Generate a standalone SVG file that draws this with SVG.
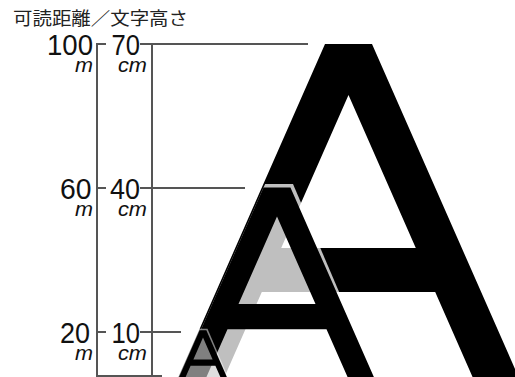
<svg xmlns="http://www.w3.org/2000/svg" width="515" height="377" viewBox="0 0 515 377">
<style>
.num{font-family:"Liberation Sans","DejaVu Sans",sans-serif;font-size:29px;fill:#111}
.unit{font-family:"Liberation Sans","DejaVu Sans",sans-serif;font-size:20px;font-style:italic;fill:#111}
.rule{stroke:#555;stroke-width:2;fill:none}
.glyph{fill:#000;fill-rule:evenodd}
.halo{fill:#fff}
</style>
<rect width="515" height="377" fill="#fff"/>
<g id="title">
<text x="13" y="25" font-family="'Noto Sans CJK JP','Noto Sans CJK SC',sans-serif" font-size="18" fill="#222" textLength="175" lengthAdjust="spacingAndGlyphs">可読距離／文字高さ</text>
</g>
<g id="letters">
<path id="letter-large" class="glyph" d="M325,44 L372,44 L519,378 L473,378 L435.2,292 L261.8,292 L224,378 L178,378 Z M348.5,95 L415.8,248 L281.2,248 Z"/>
<path id="halo-medium" class="halo" fill-opacity="0.75" d="M265.1,184 L293,184 L375.8,378 L179.7,378 Z"/>
<path id="letter-medium" class="glyph" d="M263.55,187.5 L290.45,187.5 L374.3,378 L348,378 L326.5,329.2 L227.5,329.2 L206,378 L179.7,378 Z M277,216.6 L315.5,304.1 L238.5,304.1 Z"/>
<path id="halo-small" class="halo" fill-opacity="0.5" d="M198.8,328.8 L207.5,328.8 L228.5,378 L177.5,378 Z"/>
<path id="letter-small" class="glyph" d="M199.65,330.3 L206.35,330.3 L227.3,378 L220.8,378 L215.4,365.7 L190.6,365.7 L185.2,378 L178.7,378 Z M203,337.6 L212.6,359.4 L193.4,359.4 Z"/>
</g>
<g id="connectors">
<line class="rule" x1="97" y1="43" x2="97" y2="376"/>
<line class="rule" x1="152" y1="44" x2="152" y2="376"/>
<line class="rule" x1="96" y1="44" x2="106" y2="44"/>
<line class="rule" x1="96" y1="188" x2="106" y2="188"/>
<line class="rule" x1="96" y1="332" x2="106" y2="332"/>
<line class="rule" x1="140" y1="44" x2="308" y2="44"/>
<line class="rule" x1="140" y1="188" x2="245" y2="188"/>
<line class="rule" x1="140" y1="332" x2="181" y2="332"/>
<line class="rule" x1="96" y1="376" x2="162" y2="376"/>
</g>
<g id="label-100">
<text class="num" x="47" y="55" textLength="46" lengthAdjust="spacingAndGlyphs">100</text>
<text class="unit" x="75" y="72" textLength="18" lengthAdjust="spacingAndGlyphs">m</text>
</g>
<g id="label-70">
<text class="num" x="111.5" y="55" textLength="28.5" lengthAdjust="spacingAndGlyphs">70</text>
<text class="unit" x="118" y="72" textLength="29" lengthAdjust="spacingAndGlyphs">cm</text>
</g>
<g id="label-60">
<text class="num" x="60" y="199" textLength="31.5" lengthAdjust="spacingAndGlyphs">60</text>
<text class="unit" x="75" y="216" textLength="18" lengthAdjust="spacingAndGlyphs">m</text>
</g>
<g id="label-40">
<text class="num" x="110" y="199" textLength="30" lengthAdjust="spacingAndGlyphs">40</text>
<text class="unit" x="118" y="216" textLength="29" lengthAdjust="spacingAndGlyphs">cm</text>
</g>
<g id="label-20">
<text class="num" x="60" y="343" textLength="30" lengthAdjust="spacingAndGlyphs">20</text>
<text class="unit" x="75" y="360" textLength="18" lengthAdjust="spacingAndGlyphs">m</text>
</g>
<g id="label-10">
<text class="num" x="111.5" y="343" textLength="28.5" lengthAdjust="spacingAndGlyphs">10</text>
<text class="unit" x="118" y="360" textLength="29" lengthAdjust="spacingAndGlyphs">cm</text>
</g>
</svg>
